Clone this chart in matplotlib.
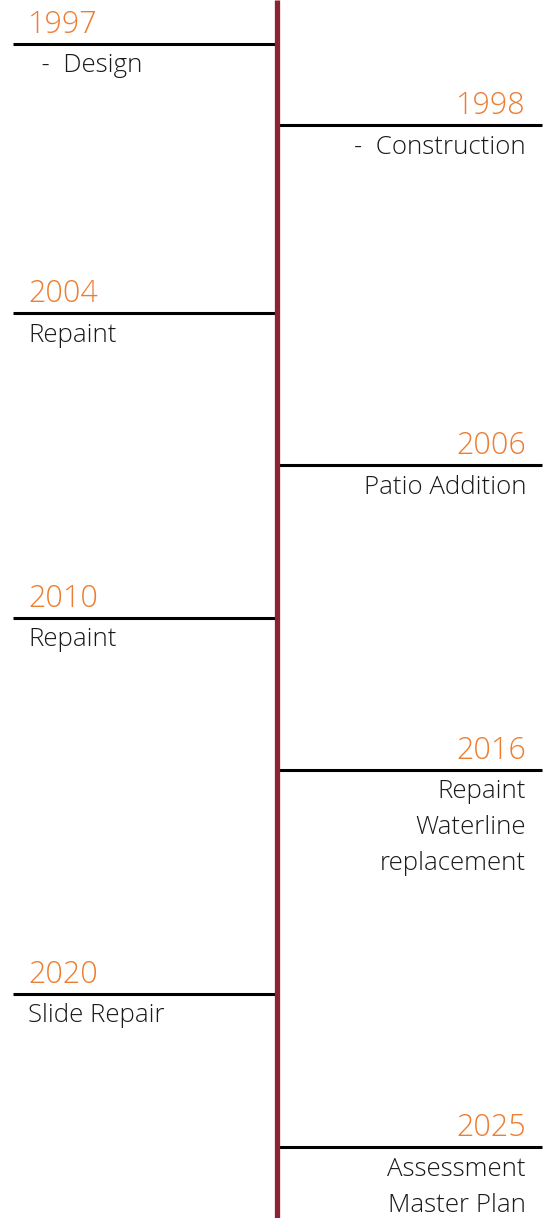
import matplotlib.pyplot as plt

plt.rcParams['font.family'] = ['Open Sans', 'DejaVu Sans']

# timeline data
years = ['1997', '1998', '2004', '2006', '2010', '2016', '2020', '2025']
events = [
    ['  -  Design'],
    ['-  Construction'],
    ['Repaint'],
    ['Patio Addition'],
    ['Repaint'],
    ['Repaint', 'Waterline', 'replacement'],
    ['Slide Repair'],
    ['Assessment', 'Master Plan'],
]
sides = ['left', 'right', 'left', 'right', 'left', 'right', 'left', 'right']

# layout (pixel rows of each entry)
row_y = [44, 125, 313, 465, 618, 770, 994, 1147]

W, H = 548, 1218
orange = '#ED7D31'
spine = '#8B2332'

fig = plt.figure(figsize=(W / 100, H / 100), dpi=100)
ax = fig.add_axes([0, 0, 1, 1])
ax.set_xlim(0, W)
ax.set_ylim(H, 0)
ax.axis('off')

cx = 276.5
ax.plot([cx, cx], [0, H], color=spine, linewidth=3.8, solid_capstyle='butt', zorder=3)

for year, lines, side, y in zip(years, events, sides, row_y):
    if side == 'left':
        x0, x1, tx, ha = 13, cx, 28, 'left'
    else:
        x0, x1, tx, ha = cx, 542, 526, 'right'
    ax.plot([x0, x1], [y, y], color='black', linewidth=2.2, solid_capstyle='butt', zorder=2)
    ax.text(tx, y - 19, year, color=orange, fontsize=22, ha=ha, va='center',
            fontweight='light')
    for i, s in enumerate(lines):
        ax.text(tx, y + 22 + i * 36, s, color='#1a1a1a', fontsize=18.6, ha=ha,
                va='center', fontweight='light')

fig.savefig('out.png', dpi=100)
